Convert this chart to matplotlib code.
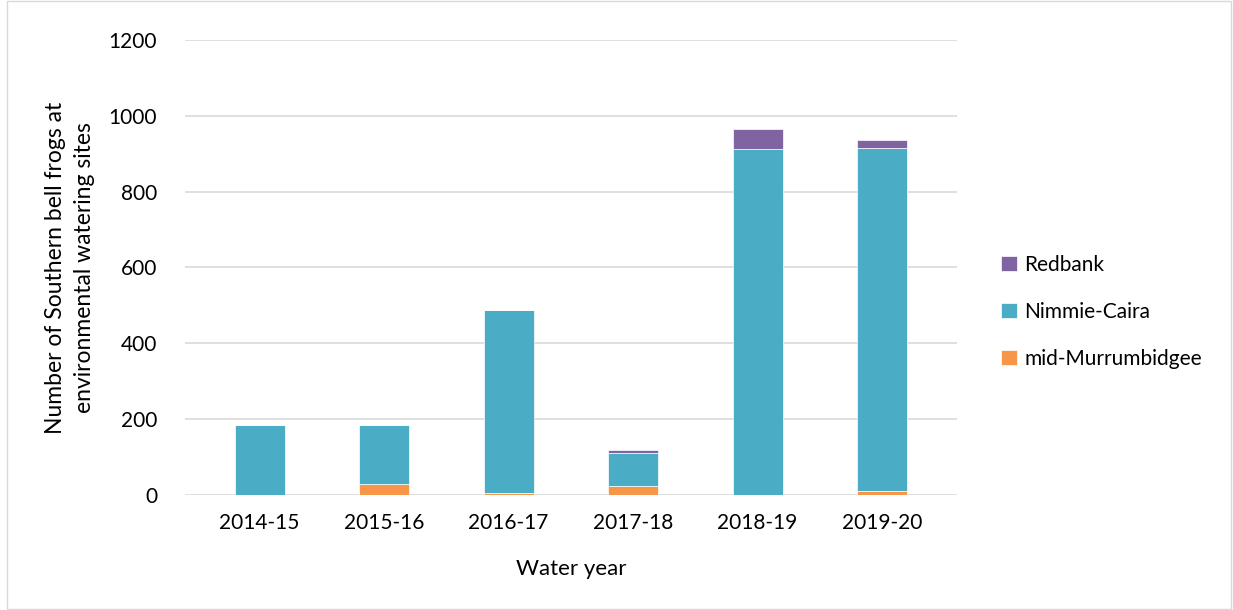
import matplotlib.pyplot as plt
import numpy as np

plt.rcParams['font.family'] = ['Lato', 'DejaVu Sans']

years = ['2014-15', '2015-16', '2016-17', '2017-18', '2018-19', '2019-20']
mid_murrumbidgee = [0, 28, 5, 24, 0, 10]
nimmie_caira = [185, 157, 483, 87, 912, 905]
redbank = [0, 0, 0, 8, 53, 20]

fig = plt.figure(figsize=(12.33, 6.10), dpi=100)
ax = fig.add_axes([0.150, 0.1885, 0.626, 0.746])

x = np.arange(len(years))
w = 0.40
b1 = np.array(mid_murrumbidgee)
b2 = b1 + np.array(nimmie_caira)
ax.bar(x, mid_murrumbidgee, w, color='#F79646', edgecolor='white', linewidth=0.5, label='mid-Murrumbidgee', zorder=3)
ax.bar(x, nimmie_caira, w, bottom=b1, color='#4BACC6', edgecolor='white', linewidth=0.5, label='Nimmie-Caira', zorder=3)
ax.bar(x, redbank, w, bottom=b2, color='#8064A2', edgecolor='white', linewidth=0.5, label='Redbank', zorder=3)

ax.set_xlim(-0.6, len(years) - 0.4)
ax.set_ylim(0, 1200)
ax.set_yticks(range(0, 1201, 200))
ax.set_xticks(x)
ax.set_xticklabels(years)
ax.yaxis.grid(True, color='#d9d9d9', linewidth=1.2, zorder=0)
for s in ax.spines.values():
    s.set_visible(False)
ax.tick_params(length=0, labelsize=15, colors='black')
ax.tick_params(axis='x', pad=13)
ax.tick_params(axis='y', pad=20)

ax.set_xlabel('Water year', fontsize=16, labelpad=19)
ax.set_ylabel('Number of Southern bell frogs at\nenvironmental watering sites', fontsize=16.5,
              labelpad=10, linespacing=1.45)

h, l = ax.get_legend_handles_labels()
fig.legend(h[::-1], l[::-1], loc='center left', bbox_to_anchor=(0.797, 0.489), frameon=False,
           fontsize=15, labelspacing=1.3, handlelength=0.75, handleheight=0.75, handletextpad=0.35)

fig.patches.append(plt.Rectangle((0.006, 0.002), 0.992, 0.996, transform=fig.transFigure,
                                 fill=False, edgecolor='#d9d9d9', linewidth=1))

fig.savefig('out.png', dpi=100)
